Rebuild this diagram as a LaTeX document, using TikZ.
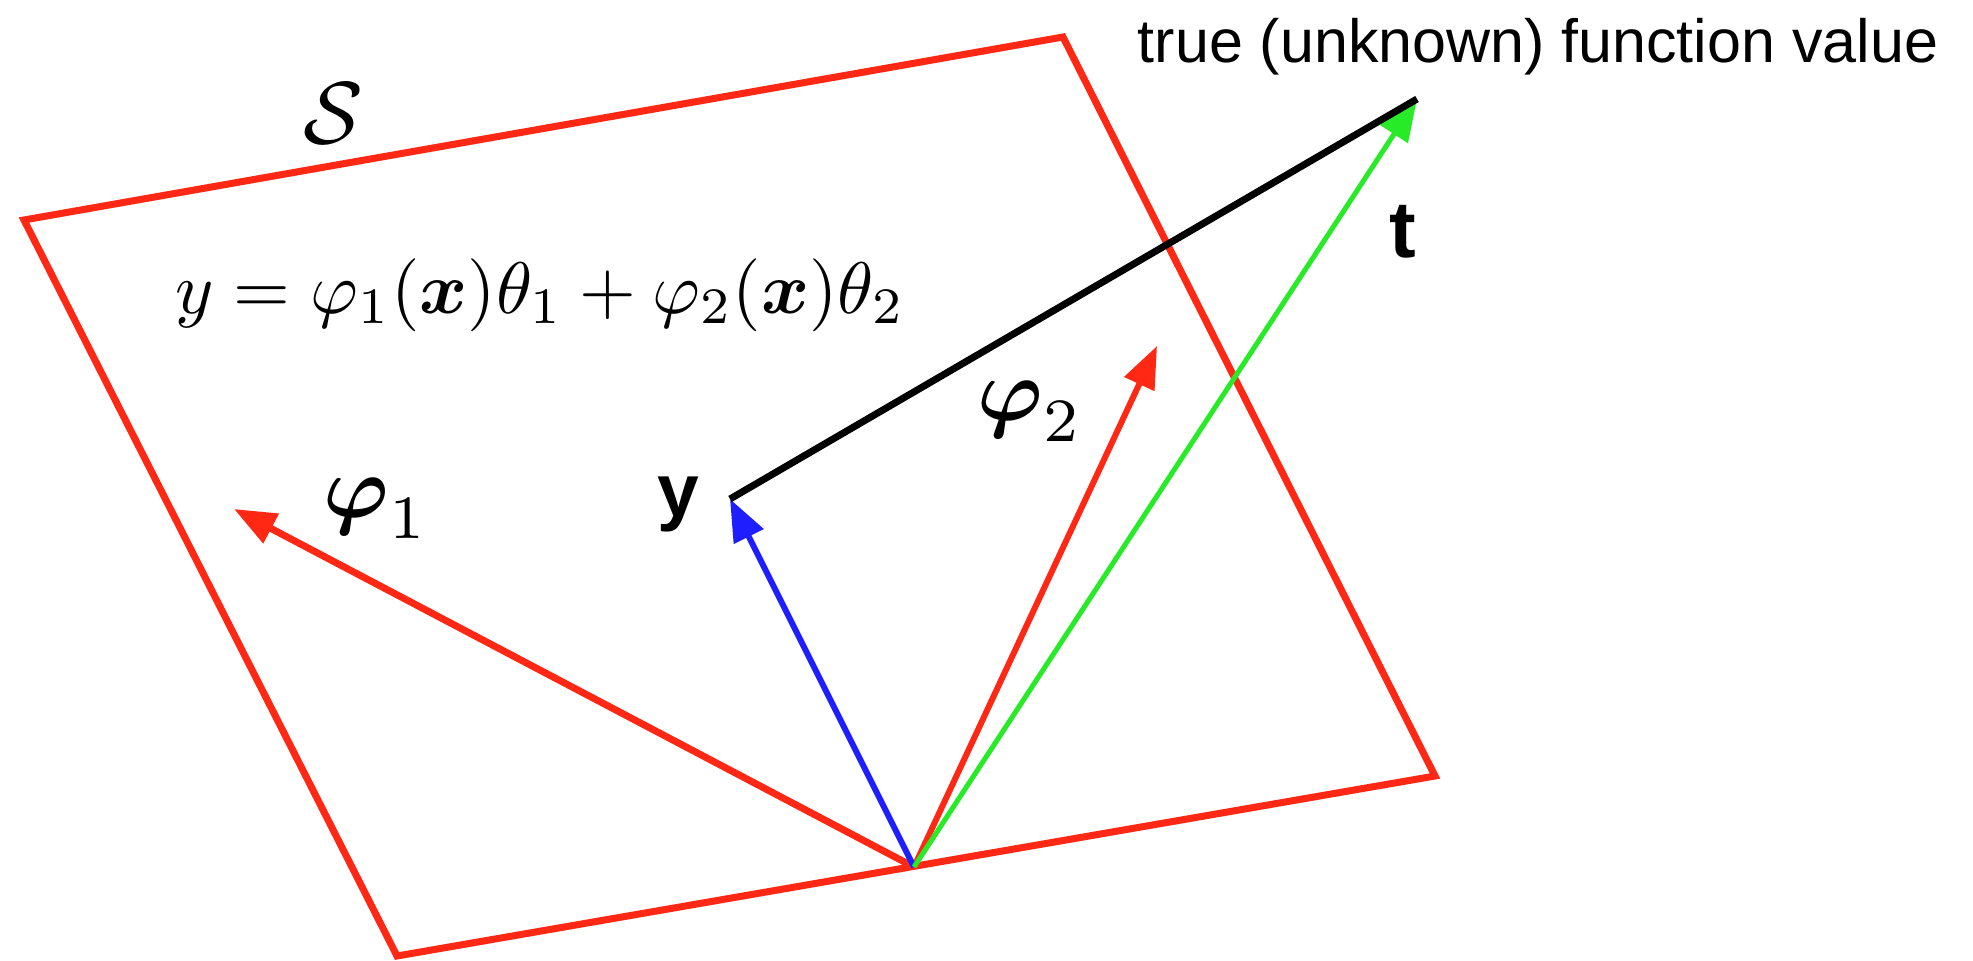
\documentclass[tikz,border=0pt]{standalone}
\usepackage{fontspec}
\usepackage{amsmath}
\usetikzlibrary{arrows.meta}
\newfontfamily\helv{Liberation Sans}
\definecolor{rojo}{RGB}{255,40,20}
\definecolor{azul}{RGB}{30,30,255}
\definecolor{verde}{RGB}{40,235,40}

\begin{document}
\begin{tikzpicture}[x=1pt,y=-1pt,line width=7pt,>={Triangle[length=42pt,width=32pt]},
  lbl/.style={anchor=base,inner sep=0pt}]
  \useasboundingbox (0,0) rectangle (1973,961);
  % plano S
  \coordinate (A) at (24,220);
  \coordinate (B) at (1063,37);
  \coordinate (C) at (1435,776);
  \coordinate (D) at (397,956);
  \draw[rojo,line join=miter] (A)--(B)--(C)--(D)--cycle;
  % origen y extremos de los vectores
  \coordinate (O) at (914,867);
  \coordinate (P1) at (234,509);
  \coordinate (Y) at (730,499);
  \coordinate (P2) at (1157,346);
  \coordinate (T) at (1417,99);
  \draw[->,rojo,line width=7pt] (O)--(P1);
  \draw[->,rojo,line width=6pt] (O)--(P2);
  \draw[->,azul,line width=6pt] (O)--(Y);
  \draw[->,verde,line width=5pt] (O)--(T);
  \draw[black,line width=7pt] (Y)--(T);
  % etiquetas
  \node[lbl,scale=8.8] (lS) at (333,143) {$\mathcal{S}$};
  \node[lbl,scale=7.3] (ecu) at (540,313) {$y=\varphi_1(\boldsymbol{x})\theta_1+\varphi_2(\boldsymbol{x})\theta_2$};
  \node[lbl,scale=8.8] (lphi1) at (376,517) {$\boldsymbol{\varphi}_1$};
  \node[lbl] (ly) at (678,516) {\fontsize{75}{90}\selectfont\helv\bfseries y};
  \node[lbl,scale=8.8] (lphi2) at (1030,420) {$\boldsymbol{\varphi}_2$};
  \node[lbl] (lt) at (1403,257) {\fontsize{80}{90}\selectfont\helv\bfseries t};
  \node[lbl] (ltrue) at (1538,62) {\fontsize{61}{64}\selectfont\helv true (unknown) function value};
\end{tikzpicture}
\end{document}
